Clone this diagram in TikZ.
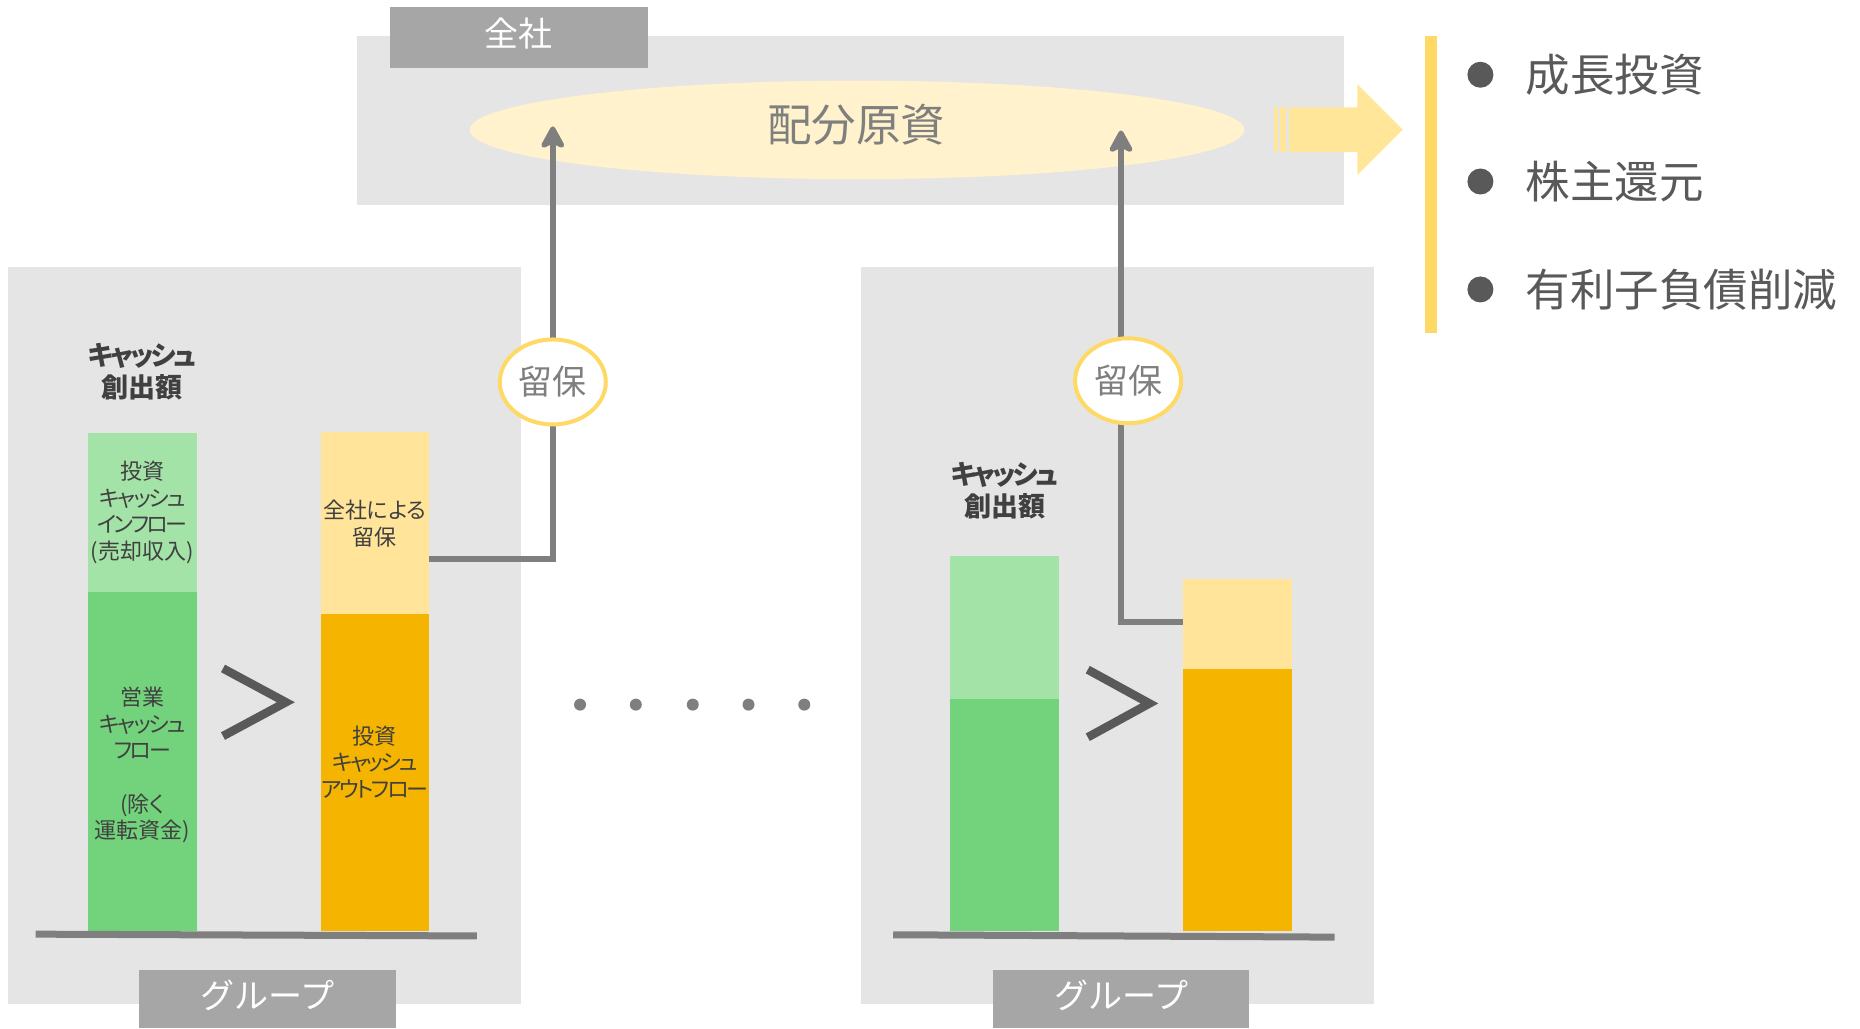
\documentclass[tikz,border=0pt]{standalone}
\usepackage{fontspec}
\newfontfamily\jp{Noto Sans CJK JP}[RawFeature=+palt]
\newfontfamily\jpk{Noto Sans CJK JP}[RawFeature=+palt,LetterSpace=-10]
\newfontfamily\jpn{Noto Sans CJK JP}
\usetikzlibrary{arrows.meta,fit,shapes.geometric}
\definecolor{panelgray}{HTML}{E5E5E5}
\definecolor{tabgray}{HTML}{A6A6A6}
\definecolor{poolfill}{HTML}{FFF2CC}
\definecolor{arrowyellow}{HTML}{FFE699}
\definecolor{baryellow}{HTML}{FFD966}
\definecolor{lgreen}{HTML}{A4E3A8}
\definecolor{dgreen}{HTML}{73D27C}
\definecolor{lyellow}{HTML}{FFE49A}
\definecolor{orange}{HTML}{F5B400}
\definecolor{conngray}{HTML}{7F7F7F}
\definecolor{dgray}{HTML}{595959}
\definecolor{txtdark}{HTML}{404040}
\begin{document}
\begin{tikzpicture}[x=1.1862pt,y=-1.1862pt,
  every node/.style={inner sep=0pt,outer sep=0pt},
  box/.style={inner sep=0pt,draw=none},
  tabtxt/.style={text=white,font=\jpn\fontsize{34}{40}\selectfont},
  bartxt/.style={text=txtdark,align=center,font=\jp\fontsize{22}{26.7}\selectfont},
  ttl/.style={text=txtdark,align=center,font=\jp\bfseries\fontsize{27}{32}\selectfont},
  bullettxt/.style={text=dgray,anchor=west,font=\jp\fontsize{44.5}{50}\selectfont},
  bulletdot/.style={circle,fill=dgray,minimum size=26pt},
  conn/.style={draw=conngray,line width=6pt},
  upar/.style={-{Stealth[length=27pt,width=29pt,inset=7pt,round]}},
  retain/.style={ellipse,fill=white,draw=baryellow,line width=4pt,minimum width=106pt,minimum height=85pt,text=conngray,font=\jp\fontsize{34}{40}\selectfont},
  gtsign/.style={draw=dgray,line width=8.5pt,line cap=butt,miter limit=10},
  basel/.style={draw=conngray,line width=7pt},
  dotn/.style={circle,fill=conngray,minimum size=12pt}
]
\useasboundingbox (0,0) rectangle (1568,867);

% top container
\node[box,fit={(301,30)(1133,173)},fill=panelgray] (top) {};
\node[box,fit={(329,6)(546,57)},fill=tabgray] (toptab) {};
\node[tabtxt] (toptabtxt) at (437.5,28) {全社};
\node[ellipse,fill=poolfill,minimum width=774.6pt,minimum height=98.5pt] (pool) at (722.5,109.5) {};
\node[text=conngray,font=\jp\fontsize{44.5}{50}\selectfont] (pooltxt) at (722,105) {配分原資};

% big striped arrow
\fill[arrowyellow] (1074,90.5) rectangle (1077,128.3);
\fill[arrowyellow] (1079,90.5) rectangle (1084,128.3);
\fill[arrowyellow] (1086.5,90.5) -- (1144.2,90.5) -- (1144.2,71) -- (1182.5,109.3) -- (1144.2,147.5) -- (1144.2,128.3) -- (1086.5,128.3) -- cycle;

% yellow bar and bullets
\node[box,fit={(1201,30)(1211,281)},fill=baryellow] (vbar) {};
\node[bulletdot] (b1) at (1248,63) {};
\node[bulletdot] (b2) at (1248,153) {};
\node[bulletdot] (b3) at (1248,244) {};
\node[bullettxt] (t1) at (1286,63) {成長投資};
\node[bullettxt] (t2) at (1286,153) {株主還元};
\node[bullettxt] (t3) at (1286,244) {有利子負債削減};

% group panels
\node[box,fit={(7,225)(439,846)},fill=panelgray] (lpanel) {};
\node[box,fit={(726,225)(1158,846)},fill=panelgray] (rpanel) {};
\node[box,fit={(117,818)(334,867)},fill=tabgray] (ltab) {};
\node[tabtxt] (ltabtxt) at (225.5,839) {グループ};
\node[box,fit={(837,818)(1053,867)},fill=tabgray] (rtab) {};
\node[tabtxt] (rtabtxt) at (945,839) {グループ};

% left bars
\node[box,fit={(74,365)(166,499)},fill=lgreen] (lgl) {};
\node[box,fit={(74,499)(166,785)},fill=dgreen] (lgd) {};
\node[box,fit={(271,364)(362,518)},fill=lyellow] (lyl) {};
\node[box,fit={(271,518)(362,785)},fill=orange] (lyo) {};
\node[ttl] (lttl) at (120,313.5) {{\jpk\bfseries キャッシュ}\\創出額};
\node[bartxt] (lgltxt) at (120,432) {投資\\{\jpk キャッシュ}\\{\jpk インフロー}\\(売却収入)};
\node[bartxt] (lgdtxt) at (120,645) {営業\\{\jpk キャッシュ}\\{\jpk フロー}\\[26.7pt](除く\\運転資金)};
\node[bartxt] (lyltxt) at (316,441.5) {全社による\\留保};
\node[bartxt] (lyotxt) at (316,642.5) {投資\\{\jpk キャッシュ}\\{\jpk アウトフロー}};
\draw[basel] (30,787.5) -- (402,789);
\draw[gtsign] (188,563.5) -- (241,592) -- (188,620.5);

% right bars
\node[box,fit={(801,469)(893,589)},fill=lgreen] (rgl) {};
\node[box,fit={(801,589)(893,785)},fill=dgreen] (rgd) {};
\node[box,fit={(997,488)(1089,564)},fill=lyellow] (ryl) {};
\node[box,fit={(997,564)(1089,785)},fill=orange] (ryo) {};
\node[ttl] (rttl) at (847,414) {{\jpk\bfseries キャッシュ}\\創出額};
\draw[basel] (753,788) -- (1125,790);
\draw[gtsign] (917,564.5) -- (969,593) -- (917,621.5);

% connectors
\coordinate (lsrc) at (362,471);
\coordinate (ltip) at (466,106.5);
\coordinate (rsrc) at (997,524);
\coordinate (rtip) at (945,110);
\draw[conn,upar] (lsrc) -| (ltip);
\draw[conn,upar] (rsrc) -| (rtip);
\node[retain] (lret) at (466,322) {留保};
\node[retain] (rret) at (951,321) {留保};

% dots
\node[dotn] (d1) at (489,594) {};
\node[dotn] (d2) at (536,594) {};
\node[dotn] (d3) at (584,594) {};
\node[dotn] (d4) at (631,594) {};
\node[dotn] (d5) at (678,594) {};
\end{tikzpicture}
\end{document}
